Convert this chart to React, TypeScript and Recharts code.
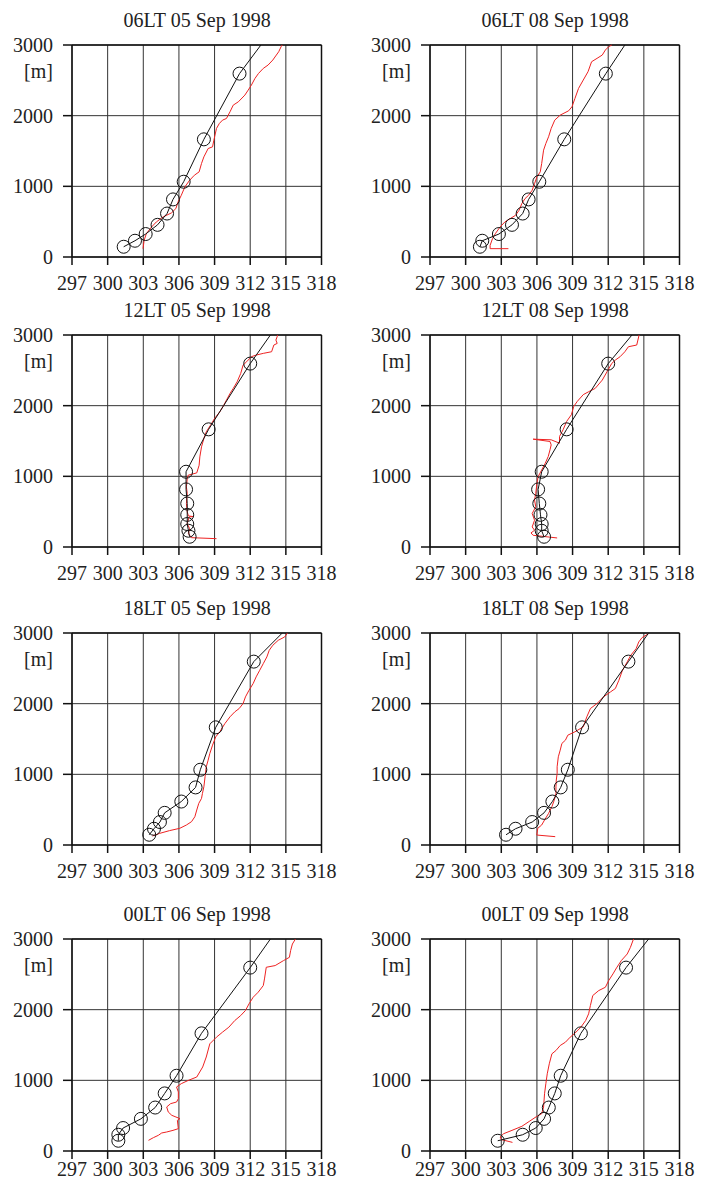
import React from "react";
import { ComposedChart, Scatter, XAxis, YAxis, CartesianGrid } from "recharts";

const X_TICKS = [297, 300, 303, 306, 309, 312, 315, 318];
const Y_TICKS = [0, 1000, 2000, 3000];
// model levels [m]; the last entry is where the line leaves the top of the frame
const LEVELS = [145, 230, 325, 455, 615, 815, 1065, 1665, 2595, 3000];

const MODEL_06LT_05 = [301.35, 302.3, 303.2, 304.2, 305.0, 305.5, 306.4, 308.1, 311.1, 312.9];
const MODEL_06LT_08 = [301.2, 301.4, 302.8, 303.9, 304.8, 305.3, 306.2, 308.3, 311.8, 313.4];
const MODEL_12LT_05 = [306.9, 306.8, 306.7, 306.7, 306.7, 306.6, 306.6, 308.5, 312.0, 313.7];
const MODEL_12LT_08 = [306.6, 306.4, 306.4, 306.3, 306.2, 306.1, 306.4, 308.5, 312.0, 314.0];
const MODEL_18LT_05 = [303.5, 303.9, 304.4, 304.8, 306.2, 307.4, 307.8, 309.1, 312.3, 314.7];
const MODEL_18LT_08 = [303.4, 304.2, 305.6, 306.6, 307.3, 308.0, 308.6, 309.8, 313.7, 315.4];
const MODEL_00LT_06 = [300.9, 300.9, 301.3, 302.8, 304.0, 304.8, 305.8, 307.9, 312.0, 313.7];
const MODEL_00LT_09 = [302.7, 304.8, 305.9, 306.6, 307.0, 307.5, 308.0, 309.7, 313.5, 315.4];

// radiosonde profiles [K, m]
const SONDE_06LT_05 = [[302.98,118],[303.07,236],[303.26,331],[303.7,425],[304.1,496],[304.67,567],[305.37,624],[305.74,685],[305.93,779],[306.2,874],[306.5,992],[306.9,1086],[307.3,1157],[307.7,1205],[307.9,1323],[308.1,1417],[308.46,1535],[308.83,1559],[308.94,1653],[309.16,1819],[309.4,1889],[309.67,1937],[310.0,1960],[310.3,2055],[310.57,2149],[311.0,2196],[311.55,2291],[311.83,2362],[312.1,2433],[312.4,2527],[312.7,2598],[313.1,2669],[313.5,2716],[313.9,2787],[314.2,2858],[314.4,2905],[314.6,2976],[314.7,3000]];
const SONDE_06LT_08 = [[303.6,118],[302.06,118],[302.06,165],[302.26,260],[302.5,331],[302.9,425],[303.3,496],[303.75,543],[304.2,590],[304.5,661],[304.73,756],[305.0,827],[305.3,874],[305.6,945],[305.8,1039],[306.0,1134],[306.28,1205],[306.4,1323],[306.56,1512],[306.75,1606],[306.98,1701],[307.2,1819],[307.5,1937],[307.96,2008],[308.67,2069],[308.95,2126],[309.2,2244],[309.5,2385],[309.9,2504],[310.3,2622],[310.6,2763],[311.06,2811],[311.5,2858],[311.76,2929],[312.04,2976],[312.3,3000]];
const SONDE_12LT_05 = [[309.16,118],[307.05,132],[306.8,189],[306.9,260],[306.7,331],[306.86,425],[307.2,430],[306.8,440],[306.7,496],[306.63,614],[306.7,756],[306.63,850],[306.7,968],[306.78,1016],[307.5,1049],[307.7,1157],[307.76,1275],[307.9,1417],[308.1,1535],[308.3,1630],[308.66,1724],[309.0,1819],[309.44,1913],[309.78,2008],[310.0,2078],[310.3,2173],[310.57,2244],[310.9,2338],[311.2,2456],[311.4,2574],[311.7,2622],[312.1,2693],[312.5,2716],[313.1,2740],[313.8,2763],[313.99,2858],[314.27,2881],[314.16,2929],[314.27,2976],[314.3,3000]];
const SONDE_12LT_08 = [[307.7,128],[305.68,166],[305.5,199],[305.8,237],[305.6,284],[305.8,379],[305.6,474],[305.9,569],[305.8,664],[305.9,758],[306.0,900],[306.1,995],[306.4,1090],[306.7,1185],[306.95,1280],[307.1,1374],[307.2,1445],[307.1,1493],[305.68,1526],[307.2,1517],[307.9,1469],[307.9,1564],[308.2,1659],[308.5,1777],[308.9,1872],[309.1,1990],[309.4,2061],[309.9,2156],[310.35,2197],[310.9,2244],[311.5,2362],[311.9,2480],[312.3,2598],[312.6,2645],[313.0,2693],[313.4,2763],[313.7,2834],[314.4,2858],[314.5,2929],[314.6,3000]];
const SONDE_18LT_05 = [[303.77,127],[304.39,165],[305.2,203],[306.07,236],[306.63,283],[307.06,330],[307.34,400],[307.5,495],[307.67,589],[307.9,659],[307.98,730],[308.1,824],[308.2,966],[308.3,1107],[308.46,1201],[308.6,1295],[308.83,1413],[309.1,1531],[309.44,1602],[309.87,1719],[310.3,1814],[310.7,1884],[311.07,1931],[311.4,2002],[311.6,2096],[311.9,2190],[312.25,2285],[312.5,2379],[312.8,2473],[313.1,2567],[313.4,2661],[313.6,2755],[313.9,2826],[314.36,2897],[314.9,2944],[315.1,2991],[315.1,3000]];
const SONDE_18LT_08 = [[307.54,118],[305.99,141],[306.07,236],[306.4,283],[306.64,353],[306.98,447],[307.26,542],[307.46,636],[307.6,730],[307.6,824],[307.63,919],[307.7,1013],[307.7,1107],[307.8,1248],[307.96,1342],[308.1,1437],[308.4,1484],[308.6,1554],[309.2,1602],[309.9,1672],[310.2,1814],[310.5,1931],[311.06,2002],[311.6,2096],[312.2,2167],[312.6,2214],[312.9,2332],[313.2,2473],[313.6,2591],[313.9,2685],[314.35,2779],[314.57,2873],[314.85,2935],[315.4,2991]];
const SONDE_00LT_06 = [[303.44,151],[303.85,189],[304.27,222],[304.55,255],[304.97,269],[305.5,292],[305.95,316],[305.87,434],[306.09,458],[305.75,481],[305.4,505],[305.1,552],[304.97,623],[305.3,670],[305.8,693],[305.95,740],[305.95,835],[305.8,906],[306.2,953],[306.8,1000],[307.5,1047],[308.0,1189],[308.3,1330],[308.6,1517],[309.16,1611],[309.67,1682],[310.2,1752],[310.7,1846],[311.2,1917],[311.6,1988],[311.9,2082],[312.25,2176],[312.67,2247],[313.1,2341],[313.2,2435],[313.35,2600],[314.1,2624],[314.8,2694],[315.3,2741],[315.4,2835],[315.55,2929],[315.76,2986],[315.8,3000]];
const SONDE_00LT_09 = [[303.94,122],[303.04,160],[302.9,198],[303.2,245],[303.9,292],[304.73,349],[305.4,424],[305.99,490],[306.4,528],[306.56,622],[306.64,810],[306.75,951],[306.87,1093],[307.04,1234],[307.26,1375],[307.6,1422],[307.96,1493],[308.4,1540],[308.8,1611],[309.2,1667],[309.7,1752],[310.1,1846],[310.35,1941],[310.5,2059],[310.7,2200],[311.2,2270],[311.76,2317],[312.04,2412],[312.4,2506],[312.7,2591],[313.1,2694],[313.6,2788],[313.87,2882],[314.1,2986],[314.15,3000]];

const PLOT_W = 249.5;
const INK = "#222";
const FONT = '"Liberation Serif", "Times New Roman", serif';
const frame = { stroke: "#111", strokeWidth: 1.5 };

const LeftTick = (p: any) => (
  <g>
    <text x={p.x} y={p.y} dy="0.355em" textAnchor="end" fill={INK} fontSize={20} fontFamily={FONT}>
      {p.payload.value}
    </text>
    {p.payload.value === 3000 && (
      <text x={p.x} y={p.y + 26} dy="0.355em" textAnchor="end" fill={INK} fontSize={20} fontFamily={FONT}>
        [m]
      </text>
    )}
  </g>
);

const Ring = (p: any) =>
  p.payload.h >= 3000 ? <g /> : <circle cx={p.cx} cy={p.cy} r={6.5} fill="none" stroke="#111" strokeWidth={1} />;

function Panel({ title, model, sonde, left, top, labelGap = 11, axisH = 43 }: any) {
  const modelPts = model.map((t: number, i: number) => ({ t, h: LEVELS[i] }));
  const sondePts = sonde.map(([t, h]: number[]) => ({ t, h }));
  return (
    <div style={{ position: "absolute", left: left - 72, top: top - 45 }}>
      <div
        style={{
          position: "absolute",
          left: 72,
          top: 10,
          width: PLOT_W,
          textAlign: "center",
          fontSize: 20,
          lineHeight: "20px",
          color: INK,
          whiteSpace: "nowrap",
        }}
      >
        {title}
      </div>
      <ComposedChart width={362} height={257 + axisH} margin={{ top: 35, right: 0, bottom: 0, left: 0 }}>
        <CartesianGrid stroke="#333" strokeWidth={1} />
        <XAxis
          dataKey="t"
          type="number"
          domain={[297, 318]}
          ticks={X_TICKS}
          interval={0}
          height={axisH}
          tickSize={8}
          tickMargin={labelGap}
          axisLine={frame}
          tickLine={frame}
          tick={{ fill: INK, fontSize: 20, fontFamily: FONT }}
        />
        <XAxis
          xAxisId="top"
          orientation="top"
          type="number"
          domain={[297, 318]}
          ticks={X_TICKS}
          interval={0}
          height={10}
          tickSize={8}
          axisLine={frame}
          tickLine={frame}
          tickFormatter={() => ""}
        />
        <YAxis
          dataKey="h"
          type="number"
          domain={[0, 3000]}
          ticks={Y_TICKS}
          interval={0}
          width={72}
          tickSize={9}
          tickMargin={10}
          axisLine={frame}
          tickLine={frame}
          tick={<LeftTick />}
        />
        <YAxis
          yAxisId="r"
          orientation="right"
          type="number"
          domain={[0, 3000]}
          ticks={Y_TICKS}
          interval={0}
          width={362 - 72 - PLOT_W}
          tickSize={8}
          tickMargin={5}
          axisLine={frame}
          tickLine={frame}
          tick={{ fill: INK, fontSize: 20, fontFamily: FONT }}
          tickFormatter={(v: number) => (v === 0 ? "[K]" : "")}
        />
        <Scatter
          data={sondePts}
          line={{ stroke: "#ee2222", strokeWidth: 1 }}
          shape={() => <g />}
          isAnimationActive={false}
        />
        <Scatter
          data={modelPts}
          line={{ stroke: "#111", strokeWidth: 1 }}
          shape={Ring}
          isAnimationActive={false}
        />
      </ComposedChart>
    </div>
  );
}

const COL_LEFT = [72.3, 430.3];
const ROW_TOP = [45, 335, 633, 939];

export default function App() {
  return (
    <div
      style={{
        position: "absolute",
        left: 0,
        top: 0,
        width: 725,
        height: 1184,
        overflow: "hidden",
        background: "#fff",
        fontFamily: FONT,
      }}
    >
      <Panel title="06LT 05 Sep 1998" model={MODEL_06LT_05} sonde={SONDE_06LT_05} left={COL_LEFT[0]} top={ROW_TOP[0]} />
      <Panel title="06LT 08 Sep 1998" model={MODEL_06LT_08} sonde={SONDE_06LT_08} left={COL_LEFT[1]} top={ROW_TOP[0]} />
      <Panel title="12LT 05 Sep 1998" model={MODEL_12LT_05} sonde={SONDE_12LT_05} left={COL_LEFT[0]} top={ROW_TOP[1]} />
      <Panel title="12LT 08 Sep 1998" model={MODEL_12LT_08} sonde={SONDE_12LT_08} left={COL_LEFT[1]} top={ROW_TOP[1]} />
      <Panel title="18LT 05 Sep 1998" model={MODEL_18LT_05} sonde={SONDE_18LT_05} left={COL_LEFT[0]} top={ROW_TOP[2]} />
      <Panel title="18LT 08 Sep 1998" model={MODEL_18LT_08} sonde={SONDE_18LT_08} left={COL_LEFT[1]} top={ROW_TOP[2]} />
      <Panel title="00LT 06 Sep 1998" model={MODEL_00LT_06} sonde={SONDE_00LT_06} left={COL_LEFT[0]} top={ROW_TOP[3]} labelGap={3} axisH={33} />
      <Panel title="00LT 09 Sep 1998" model={MODEL_00LT_09} sonde={SONDE_00LT_09} left={COL_LEFT[1]} top={ROW_TOP[3]} labelGap={3} axisH={33} />
    </div>
  );
}
